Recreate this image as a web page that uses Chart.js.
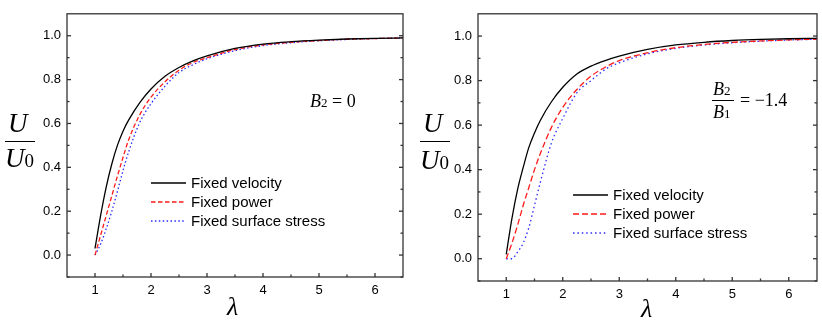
<!DOCTYPE html>
<html>
<head>
<meta charset="utf-8">
<script src="https://cdn.jsdelivr.net/npm/chart.js@4.4.1/dist/chart.umd.min.js"></script>
<style>
  body { margin: 0; background: #fff; }
  #wrap { position: relative; width: 822px; height: 322px; }
  .panel { position: absolute; top: 0; width: 411px; height: 322px; }
  .m { position: absolute; font-family: 'Liberation Serif', 'DejaVu Serif', serif; color: #000; line-height: 1; white-space: nowrap; }
  .i { font-style: italic; }
  .bar { position: absolute; height: 1.3px; background: #000; }
</style>
</head>
<body>
<div id="wrap">
  <div class="panel" style="left:0"><canvas id="left"></canvas></div>
  <div class="panel" style="left:411px"><canvas id="right"></canvas></div>

  <!-- y titles: U / U0 -->
  <div class="m i" style="left:8px;top:110px;font-size:27px;">U</div>
  <div class="bar" style="left:5px;top:141px;width:30px;"></div>
  <div class="m" style="left:5px;top:145px;font-size:27px;"><span class="i">U</span><span style="font-size:19px;">0</span></div>

  <div class="m i" style="left:423px;top:110px;font-size:27px;">U</div>
  <div class="bar" style="left:420px;top:141px;width:30px;"></div>
  <div class="m" style="left:420px;top:147px;font-size:27px;"><span class="i">U</span><span style="font-size:19px;">0</span></div>

  <!-- x titles -->
  <div class="m i" style="left:227px;top:294px;font-size:26px;">λ</div>
  <div class="m i" style="left:641px;top:296px;font-size:26px;">λ</div>

  <!-- annotations -->
  <div class="m" style="left:310px;top:92px;font-size:18px;"><span class="i">B</span><span style="font-size:13px;">2</span>&nbsp;=&nbsp;0</div>
  <div class="m" style="left:713px;top:80px;font-size:18px;"><span class="i">B</span><span style="font-size:13px;">2</span></div>
  <div class="bar" style="left:712px;top:100px;width:22px;height:1px;"></div>
  <div class="m" style="left:713px;top:103px;font-size:18px;"><span class="i">B</span><span style="font-size:13px;">1</span></div>
  <div class="m" style="left:740px;top:91px;font-size:18px;">=&nbsp;−1.4</div>
</div>

<script>
// λ sample points shared by every curve
const lam = [1, 1.1, 1.2, 1.3, 1.4, 1.5, 1.6, 1.8, 2, 2.25, 2.5, 2.75, 3, 3.5, 4, 4.5, 5, 5.5, 6, 6.5];

// left panel, B2 = 0
const velLeft = [0.03, 0.18, 0.31, 0.415, 0.50, 0.565, 0.615, 0.695, 0.757, 0.815, 0.855, 0.885, 0.908, 0.942, 0.962, 0.973, 0.98, 0.985, 0.988, 0.99];
const powLeft = [0.0, 0.09, 0.18, 0.27, 0.36, 0.445, 0.525, 0.64, 0.72, 0.79, 0.843, 0.878, 0.90, 0.937, 0.958, 0.97, 0.978, 0.984, 0.987, 0.99];
const strLeft = [0.0, 0.05, 0.12, 0.20, 0.29, 0.385, 0.47, 0.605, 0.69, 0.77, 0.832, 0.868, 0.895, 0.932, 0.955, 0.968, 0.977, 0.983, 0.987, 0.99];

// right panel, B2/B1 = -1.4
const velRight = [0.02, 0.18, 0.31, 0.41, 0.50, 0.565, 0.62, 0.705, 0.77, 0.83, 0.865, 0.89, 0.91, 0.94, 0.96, 0.972, 0.98, 0.985, 0.988, 0.99];
const powRight = [0.0, 0.07, 0.15, 0.24, 0.32, 0.40, 0.47, 0.59, 0.68, 0.76, 0.82, 0.86, 0.89, 0.925, 0.948, 0.962, 0.972, 0.978, 0.983, 0.986];
const strRight = [0.0, 0.0, 0.03, 0.07, 0.14, 0.24, 0.34, 0.52, 0.63, 0.745, 0.80, 0.85, 0.88, 0.92, 0.945, 0.96, 0.97, 0.977, 0.982, 0.986];

const seriesNames = ['Fixed velocity', 'Fixed power', 'Fixed surface stress'];
const xTicks = [1, 2, 3, 4, 5, 6];
const xMinor = [1.5, 2.5, 3.5, 4.5, 5.5];
const yTicks = [0, 0.2, 0.4, 0.6, 0.8, 1.0];
const yMinor = [-0.1, 0.1, 0.3, 0.5, 0.7, 0.9];

const pts = ys => lam.map((x, i) => ({ x, y: ys[i] }));

/* frame + inward ticks on left, bottom and right edges */
const frameTicks = {
  id: 'frameTicks',
  afterDraw(chart) {
    const { ctx, chartArea: a, scales: { x, y } } = chart;
    const seg = (x0, y0, x1, y1) => { ctx.beginPath(); ctx.moveTo(x0, y0); ctx.lineTo(x1, y1); ctx.stroke(); };
    ctx.save();
    ctx.strokeStyle = '#333';
    ctx.lineWidth = 1.3;
    ctx.strokeRect(a.left, a.top, a.right - a.left, a.bottom - a.top);
    xTicks.forEach(v => { const p = x.getPixelForValue(v); seg(p, a.bottom, p, a.bottom - 4); });
    xMinor.forEach(v => { const p = x.getPixelForValue(v); seg(p, a.bottom, p, a.bottom - 2.5); });
    yTicks.forEach(v => {
      const p = y.getPixelForValue(v);
      seg(a.left, p, a.left + 4, p);
      seg(a.right, p, a.right - 4, p);
    });
    yMinor.forEach(v => {
      const p = y.getPixelForValue(v);
      seg(a.left, p, a.left + 2.5, p);
      seg(a.right, p, a.right - 2.5, p);
    });
    ctx.restore();
  }
};

/* legend inside the plot */
const innerLegend = {
  id: 'innerLegend',
  afterDatasetsDraw(chart, args, opts) {
    const { ctx } = chart;
    ctx.save();
    ctx.font = '15px "Liberation Sans", Arial, sans-serif';
    ctx.fillStyle = '#000';
    ctx.textBaseline = 'middle';
    chart.data.datasets.forEach((ds, i) => {
      const yy = opts.y + i * opts.dy;
      ctx.strokeStyle = ds.borderColor;
      ctx.lineWidth = ds.borderWidth;
      ctx.setLineDash(ds.borderDash || []);
      ctx.beginPath();
      ctx.moveTo(opts.x, yy);
      ctx.lineTo(opts.x + opts.len, yy);
      ctx.stroke();
      ctx.fillText(ds.label, opts.x + opts.len + 5, yy + 1);
    });
    ctx.restore();
  }
};

function makeChart(id, vel, pow, str, legendPos, rightPad, plotBottom, dash, dots) {
  return new Chart(document.getElementById(id), {
    type: 'line',
    data: {
      datasets: [
        { label: seriesNames[0], data: pts(vel), borderColor: '#000', borderWidth: 1.3 },
        { label: seriesNames[1], data: pts(pow), borderColor: '#ff1a1a', borderWidth: 1.3, borderDash: dash },
        { label: seriesNames[2], data: pts(str), borderColor: '#2a2aff', borderWidth: 1.3, borderDash: dots }
      ]
    },
    options: {
      animation: false,
      responsive: false,
      devicePixelRatio: 1,
      layout: { padding: { left: 0, top: 5, right: rightPad, bottom: 0 } },
      elements: { point: { radius: 0 }, line: { cubicInterpolationMode: 'monotone' } },
      scales: {
        x: {
          type: 'linear', min: 0.5, max: 6.5,
          grid: { display: false, drawTicks: false },
          border: { display: false },
          afterBuildTicks: s => { s.ticks = xTicks.map(v => ({ value: v })); },
          afterFit: s => { s.height = 322 - plotBottom; },
          ticks: { color: '#000', padding: 6, font: { family: '"Liberation Sans", Arial, sans-serif', size: 13 } }
        },
        y: {
          min: -0.1, max: 1.1,
          grid: { display: false, drawTicks: false },
          border: { display: false },
          afterBuildTicks: s => { s.ticks = yTicks.map(v => ({ value: v })); },
          afterFit: s => { s.width = 67; },
          ticks: { color: '#000', padding: 6, callback: v => v.toFixed(1), font: { family: '"Liberation Sans", Arial, sans-serif', size: 13 } }
        }
      },
      plugins: {
        legend: { display: false },
        tooltip: { enabled: false },
        innerLegend: legendPos
      }
    },
    plugins: [frameTicks, innerLegend]
  });
}

for (const id of ['left', 'right']) {
  const c = document.getElementById(id);
  c.width = 411; c.height = 322;
  c.style.width = '411px'; c.style.height = '322px';
}

makeChart('left', velLeft, powLeft, strLeft,
  { x: 151, y: 183, dy: 19, len: 35 }, 8, 277, [4.5, 2.5], [1.5, 2.4]);

makeChart('right', velRight, powRight, strRight,
  { x: 162, y: 195, dy: 19, len: 35 }, 5, 281, [6, 3], [1.5, 2.9]);
</script>
</body>
</html>
